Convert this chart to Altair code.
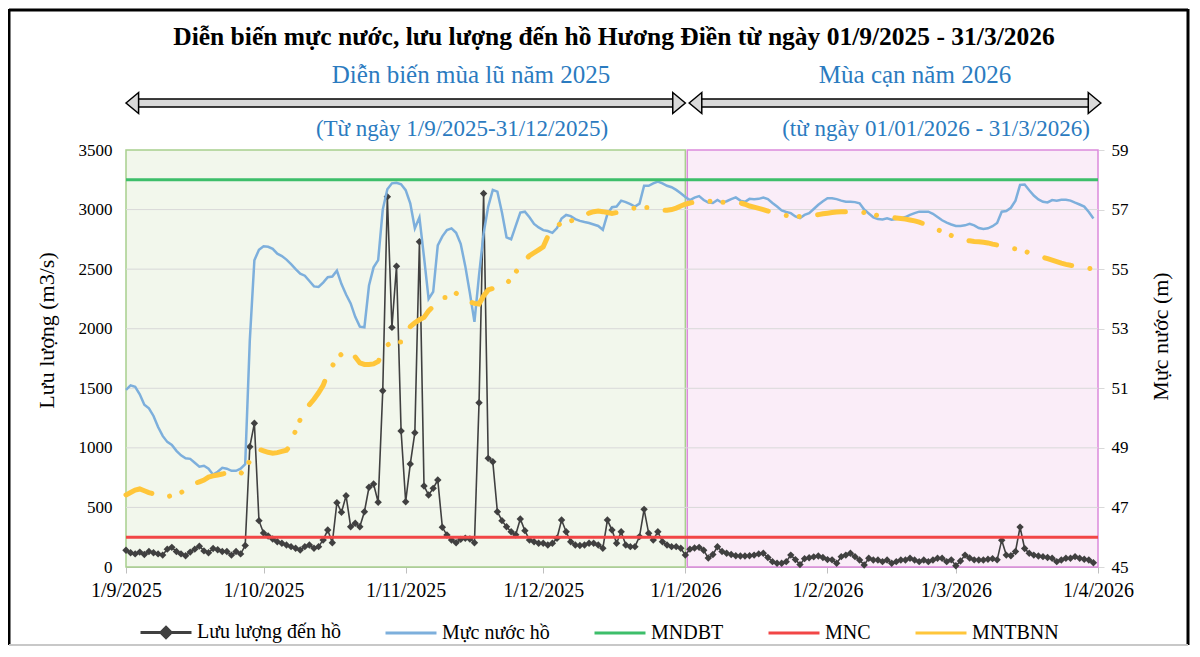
import altair as alt
import pandas as pd

SERIF = "Liberation Serif"

# ---------------- data ----------------
# Daily inflow to the reservoir (m3/s), 01/9/2025 .. 31/3/2026
inflow = [
    # Sep 2025
    140, 120, 110, 125, 105, 130, 120, 110, 100, 150, 165, 130, 110, 95, 125,
    150, 175, 135, 120, 155, 145, 130, 130, 100, 130, 110, 180, 1009, 1206, 389,
    # Oct
    285, 260, 235, 212, 200, 185, 171, 157, 143, 171, 185, 157, 171, 227, 310, 204,
    540, 459, 598, 338, 367, 338, 464, 669, 696, 543, 1479, 3107, 2011, 2525, 1141,
    # Nov
    548, 864, 1127, 2730, 680, 604, 660, 730, 333, 268, 227, 204, 232, 241, 235,
    204, 1379, 3135, 912, 884, 464, 389, 338, 296, 270, 403, 305, 227, 212, 199,
    # Dec
    199, 185, 199, 241, 394, 296, 212, 185, 180, 185, 199, 199, 185, 157, 394, 310,
    199, 296, 185, 171, 171, 255, 484, 283, 227, 296, 212, 185, 171, 171, 157,
    # Jan 2026
    100, 150, 160, 165, 140, 75, 105, 170, 130, 115, 105, 95, 92, 92, 95, 100,
    110, 115, 80, 45, 32, 31, 45, 100, 62, 20, 70, 78, 85, 92, 80,
    # Feb
    62, 60, 31, 87, 100, 115, 87, 59, 17, 73, 59, 59, 45, 59,
    31, 45, 59, 59, 73, 59, 45, 59, 45, 59, 73, 73, 45, 60,
    # Mar
    10, 50, 100, 75, 60, 59, 59, 65, 70, 60, 225, 100, 95, 130, 335, 155,
    115, 100, 92, 87, 80, 73, 45, 59, 73, 73, 87, 73, 65, 59, 35,
]

# Daily reservoir water level (m)
level = [
    # Sep
    50.95, 51.1, 51.05, 50.8, 50.45, 50.33, 50.07, 49.7, 49.4, 49.2, 49.1, 48.9, 48.75, 48.65, 48.63,
    48.5, 48.37, 48.4, 48.3, 48.1, 48.2, 48.33, 48.3, 48.23, 48.23, 48.3, 48.45, 52.6, 55.3, 55.65,
    # Oct
    55.77, 55.75, 55.68, 55.52, 55.44, 55.32, 55.17, 55.0, 54.85, 54.78, 54.6, 54.42, 54.4, 54.55, 54.73, 54.75,
    54.95, 54.5, 54.15, 53.85, 53.4, 53.07, 53.05, 54.45, 55.06, 55.3, 57.0, 57.68, 57.88, 57.9, 57.85,
    # Nov
    57.65, 57.21, 56.37, 56.74, 55.4, 54.0, 54.24, 55.8, 56.1, 56.31, 56.37, 56.22, 55.85, 55.1, 54.2,
    53.23, 54.8, 56.2, 57.1, 57.66, 57.6, 56.9, 56.07, 56.0, 56.45, 56.9, 56.93, 56.74, 56.52, 56.4,
    # Dec
    56.31, 56.28, 56.22, 56.38, 56.7, 56.82, 56.78, 56.68, 56.62, 56.58, 56.55, 56.5, 56.45, 56.32, 56.85, 57.08,
    57.1, 57.3, 57.25, 57.18, 57.1, 57.2, 57.8, 57.8, 57.88, 57.94, 57.88, 57.8, 57.75, 57.66, 57.55,
    # Jan
    57.42, 57.32, 57.4, 57.45, 57.32, 57.24, 57.22, 57.32, 57.23, 57.28, 57.35, 57.41, 57.3, 57.26, 57.36, 57.35,
    57.36, 57.4, 57.35, 57.22, 57.1, 56.97, 56.92, 56.88, 56.77, 56.71, 56.82, 56.88, 57.02, 57.16, 57.28,
    # Feb
    57.38, 57.38, 57.35, 57.3, 57.26, 57.26, 57.25, 57.21, 57.0, 56.87, 56.74, 56.68, 56.67, 56.71,
    56.66, 56.68, 56.71, 56.75, 56.82, 56.88, 56.93, 56.93, 56.93, 56.86, 56.75, 56.64, 56.56, 56.5,
    # Mar
    56.45, 56.45, 56.47, 56.52, 56.47, 56.38, 56.35, 56.37, 56.44, 56.55, 56.93, 56.95, 57.06, 57.3, 57.83, 57.84,
    57.65, 57.47, 57.34, 57.26, 57.24, 57.32, 57.3, 57.33, 57.33, 57.3, 57.23, 57.17, 57.1, 56.92, 56.7,
]

# Multi-year average water level MNTBNN (m)
mntbnn = [
    # Sep
    47.42, 47.5, 47.58, 47.62, 47.56, 47.5, 47.45, 47.38, 47.34, 47.36, 47.4, 47.43, 47.5, 47.6, 47.72,
    47.8, 47.86, 47.92, 48.02, 48.06, 48.09, 48.12, 48.16, 48.18, 48.13, 48.12, 48.35, 48.55, 48.75, 48.95,
    # Oct
    48.9, 48.85, 48.82, 48.84, 48.88, 48.92, 49.1, 49.6, 49.95, 50.25, 50.45, 50.63, 50.85, 51.1, 51.5, 51.75,
    52.0, 52.15, 52.25, 52.25, 52.05, 51.85, 51.8, 51.8, 51.82, 51.9, 52.2, 52.45, 52.55, 52.55, 52.55,
    # Nov
    52.8, 53.07, 53.2, 53.3, 53.38, 53.6, 53.75, 53.9, 54.05, 54.05, 54.05, 54.19, 54.05, 54.0, 53.9,
    53.85, 53.83, 54.1, 54.3, 54.35, 54.4, 54.45, 54.5, 54.7, 54.9, 55.1, 55.3, 55.45, 55.55, 55.65,
    # Dec
    55.75, 56.1, 56.35, 56.45, 56.55, 56.59, 56.62, 56.66, 56.73, 56.8, 56.88, 56.93, 56.95, 56.93, 56.9, 56.87,
    56.9, 56.95, 57.0, 57.04, 57.05, 57.06, 57.07, 57.07, 57.05, 57.02, 56.98, 56.98, 57.0, 57.05, 57.12,
    # Jan
    57.18, 57.22, 57.25, 57.3, 57.3, 57.28, 57.27, 57.26, 57.25, 57.25, 57.24, 57.23, 57.22, 57.18, 57.12, 57.08,
    57.04, 57.0, 56.95, 56.92, 56.88, 56.84, 56.8, 56.78, 56.77, 56.77, 56.78, 56.79, 56.8, 56.83, 56.86,
    # Feb
    56.88, 56.9, 56.92, 56.93, 56.93, 56.93, 56.93, 56.93, 56.9, 56.86, 56.83, 56.8, 56.78, 56.76,
    56.74, 56.72, 56.7, 56.68, 56.65, 56.62, 56.58, 56.52, 56.45, 56.38, 56.32, 56.27, 56.2, 56.13,
    # Mar
    56.07, 56.02, 55.98, 55.95, 55.93, 55.92, 55.9, 55.88, 55.84, 55.81, 55.77, 55.74, 55.7, 55.68, 55.66, 55.6,
    55.55, 55.5, 55.45, 55.4, 55.35, 55.3, 55.25, 55.2, 55.16, 55.13, 55.11, 55.09, 55.07, 55.03, 55.0,
]

MNDBT = 58.0   # normal water level
MNC = 46.0     # dead water level

left_ticks = [0, 500, 1000, 1500, 2000, 2500, 3000, 3500]
grid_values = [500, 1000, 1500, 2000, 2500, 3000]
right_ticks = [45, 47, 49, 51, 53, 55, 57, 59]
month_ticks = [(2025, 9), (2025, 10), (2025, 11), (2025, 12), (2026, 1), (2026, 2), (2026, 3), (2026, 4)]

series_names = ["Lưu lượng đến hồ", "Mực nước hồ", "MNDBT", "MNC", "MNTBNN"]
series_colors = ["#404040", "#7DAFDC", "#3DBE6A", "#F24646", "#FFC63A"]

main_title = "Diễn biến mực nước, lưu lượng đến hồ Hương Điền từ ngày 01/9/2025 - 31/3/2026"
season_titles = ["Diễn biến mùa lũ năm 2025", "Mùa cạn năm 2026"]
season_ranges = ["(Từ ngày 1/9/2025-31/12/2025)", "(từ ngày 01/01/2026 - 31/3/2026)"]

# ---------------- tables ----------------
dates = pd.date_range("2025-09-01", periods=len(inflow), freq="D")
df = pd.DataFrame({"date": dates, "inflow": inflow, "level": level, "mntbnn": mntbnn})
flood = pd.DataFrame({"start": ["2025-09-01T00:00:00"], "end": ["2026-01-01T00:00:00"]})
dry = pd.DataFrame({"start": ["2026-01-01T10:00:00"], "end": ["2026-04-01T00:00:00"]})
arrows = pd.DataFrame({"start": ["2025-09-01T00:00:00", "2026-01-01T20:00:00"],
                       "end": ["2026-01-01T00:00:00", "2026-04-01T15:00:00"]})

BLUE_TXT = "#2B7BC0"

# ---------------- scales / axes ----------------
x_scale = alt.Scale(domain=[alt.DateTime(year=2025, month=9, date=1),
                            alt.DateTime(year=2026, month=4, date=1)])
x_axis = alt.Axis(values=[alt.DateTime(year=y, month=m, date=1) for y, m in month_ticks],
                  format="%-d/%-m/%Y", title=None, grid=False, labelFont=SERIF, labelFontSize=20,
                  labelColor="black", tickColor="#BFBFBF", tickSize=6, domainColor="#BFBFBF",
                  labelPadding=7, labelFlush=False, labelOverlap=False)


def X(field):
    return alt.X(field, scale=x_scale, axis=x_axis, title=None)


left_scale = alt.Scale(domain=[0, 3500], nice=False)
left_axis = alt.Axis(orient="left", values=left_ticks, format="d", title="Lưu lượng (m3/s)", grid=False,
                     domain=False, ticks=False, tickSize=0, labelPadding=14,
                     labelFont=SERIF, labelFontSize=17, labelColor="black",
                     titleFont=SERIF, titleFontSize=22, titleFontWeight="normal", titleColor="black",
                     titlePadding=20, titleY=180)


def YL(field):
    return alt.Y(field, scale=left_scale, axis=left_axis)


right_scale = alt.Scale(domain=[45, 59], nice=False, zero=False)
right_axis = alt.Axis(orient="right", values=right_ticks, format="d", title="Mực nước (m)", grid=False,
                      domain=False, ticks=True, tickSize=6, tickColor="#D9D9D9", labelPadding=7,
                      labelFont=SERIF, labelFontSize=17, labelColor="black",
                      titleFont=SERIF, titleFontSize=22, titleFontWeight="normal", titleColor="black",
                      titleAngle=270, titlePadding=44, titleY=186)


def YR(field):
    return alt.Y(field, scale=right_scale, axis=right_axis)


# ---------------- left (discharge) group ----------------
bg_flood = alt.Chart(flood).mark_rect(fill="#F2F7EC", stroke="#A8D08D", strokeWidth=1.5).encode(
    x=X("start:T"), x2="end:T")
bg_dry = alt.Chart(dry).mark_rect(fill="#FAEDF8", stroke="#DC8ADC", strokeWidth=1.5).encode(
    x=X("start:T"), x2="end:T")
grid = alt.Chart(pd.DataFrame({"v": grid_values})).mark_rule(color="#D9D9D9", strokeWidth=1).encode(
    y=YL("v:Q"))
inflow_line = alt.Chart(df).mark_line(color="#404040", strokeWidth=1.6).encode(
    x=X("date:T"), y=YL("inflow:Q"))
inflow_pts = alt.Chart(df).mark_point(shape="diamond", filled=True, size=55, color="#404040",
                                      opacity=1).encode(x=X("date:T"), y=YL("inflow:Q"))
left_group = alt.layer(bg_flood, bg_dry, grid, inflow_line, inflow_pts)

# ---------------- right (water level) group ----------------
level_line = alt.Chart(df).mark_line(color="#7DAFDC", strokeWidth=2.5).encode(
    x=X("date:T"), y=YR("level:Q"))
mndbt_rule = alt.Chart(pd.DataFrame({"v": [MNDBT]})).mark_rule(color="#3DBE6A", strokeWidth=3).encode(
    y=YR("v:Q"))
mnc_rule = alt.Chart(pd.DataFrame({"v": [MNC]})).mark_rule(color="#F24646", strokeWidth=3).encode(
    y=YR("v:Q"))
mntbnn_line = alt.Chart(df).mark_line(color="#FFC63A", strokeWidth=5, strokeCap="round",
                                      strokeDash=[28, 18.5, 0.01, 13, 0.01, 18.5]).encode(
    x=X("date:T"), y=YR("mntbnn:Q"))
right_group = alt.layer(level_line, mndbt_rule, mnc_rule, mntbnn_line)

# ---------------- legend (built by Vega-Lite from a color+shape scale) ----------------
series_shapes = [
    "M-1,0H1M0,-0.2L0.2,0L0,0.2L-0.2,0ZM0,-0.1L0.1,0L0,0.1L-0.1,0Z",
    "M-1,0H1", "M-1,0H1", "M-1,0H1", "M-1,0H1",
]
leg = alt.Legend(title=None, orient="none", legendX=13, legendY=455, direction="horizontal",
                 symbolSize=2600, symbolStrokeWidth=3, symbolOpacity=1,
                 labelFont=SERIF, labelFontSize=20, labelColor="black", labelOffset=4,
                 columnPadding=38, labelLimit=400)
legend_layer = alt.Chart(pd.DataFrame({"series": series_names})).mark_point(
    filled=False, strokeWidth=3, opacity=1, clip=True).encode(
    x=alt.value(-3000), y=alt.value(-3000),
    color=alt.Color("series:N", scale=alt.Scale(domain=series_names, range=series_colors), legend=leg),
    shape=alt.Shape("series:N", scale=alt.Scale(domain=series_names, range=series_shapes), legend=leg))


# ---------------- titles / annotations ----------------
def text_layer(s, x, y, size, color, weight="normal"):
    return alt.Chart(pd.DataFrame({"t": [s]})).mark_text(
        font=SERIF, fontSize=size, color=color, fontWeight=weight, align="center",
        baseline="alphabetic").encode(x=alt.value(x), y=alt.value(y), text="t:N")


texts = [
    text_layer(main_title, 488, -105, 25.5, "black", "bold"),
    text_layer(season_titles[0], 345, -67, 25, BLUE_TXT),
    text_layer(season_titles[1], 789, -67, 25, BLUE_TXT),
    text_layer(season_ranges[0], 336, -14, 23, BLUE_TXT),
    text_layer(season_ranges[1], 810, -14, 23, BLUE_TXT),
]

arrow_body = alt.Chart(arrows).mark_rect(fill="#D9D9D9", stroke="black", strokeWidth=1.5,
                                         xOffset=8, x2Offset=-8).encode(
    x=X("start:T"), x2="end:T", y=alt.value(-51), y2=alt.value(-43))
arrow_left = alt.Chart(arrows).mark_point(shape="M-0.6,0L0.6,-1L0.6,1Z", filled=True, fill="#D9D9D9",
                                          stroke="black", strokeWidth=1.5, size=441, opacity=1,
                                          xOffset=6.3).encode(x=X("start:T"), y=alt.value(-47))
arrow_right = alt.Chart(arrows).mark_point(shape="M0.6,0L-0.6,-1L-0.6,1Z", filled=True, fill="#D9D9D9",
                                           stroke="black", strokeWidth=1.5, size=441, opacity=1,
                                           xOffset=-6.3).encode(x=X("end:T"), y=alt.value(-47))

one = pd.DataFrame({"k": [0]})
frame = [
    alt.Chart(one).mark_rule(color="black", strokeWidth=3).encode(
        x=alt.value(-117), x2=alt.value(1062), y=alt.value(-140)),
    alt.Chart(one).mark_rule(color="black", strokeWidth=3).encode(
        x=alt.value(-117), y=alt.value(-141), y2=alt.value(495)),
    alt.Chart(one).mark_rule(color="black", strokeWidth=3).encode(
        x=alt.value(1062), y=alt.value(-141), y2=alt.value(495)),
    alt.Chart(one).mark_rule(color="#C8C8C8", strokeWidth=2).encode(
        x=alt.value(-117), x2=alt.value(1062), y=alt.value(495)),
]

chart = alt.layer(
    left_group, right_group, legend_layer, *texts, arrow_body, arrow_left, arrow_right, *frame
).resolve_scale(y="independent").properties(
    width=972, height=417,
    autosize=alt.AutoSizeParams(type="none"),
    padding={"left": 118, "top": 142, "right": 92, "bottom": 80},
    background="white",
).configure_view(stroke=None)

chart.save("out.html", embed_options={"renderer": "svg", "actions": False})
